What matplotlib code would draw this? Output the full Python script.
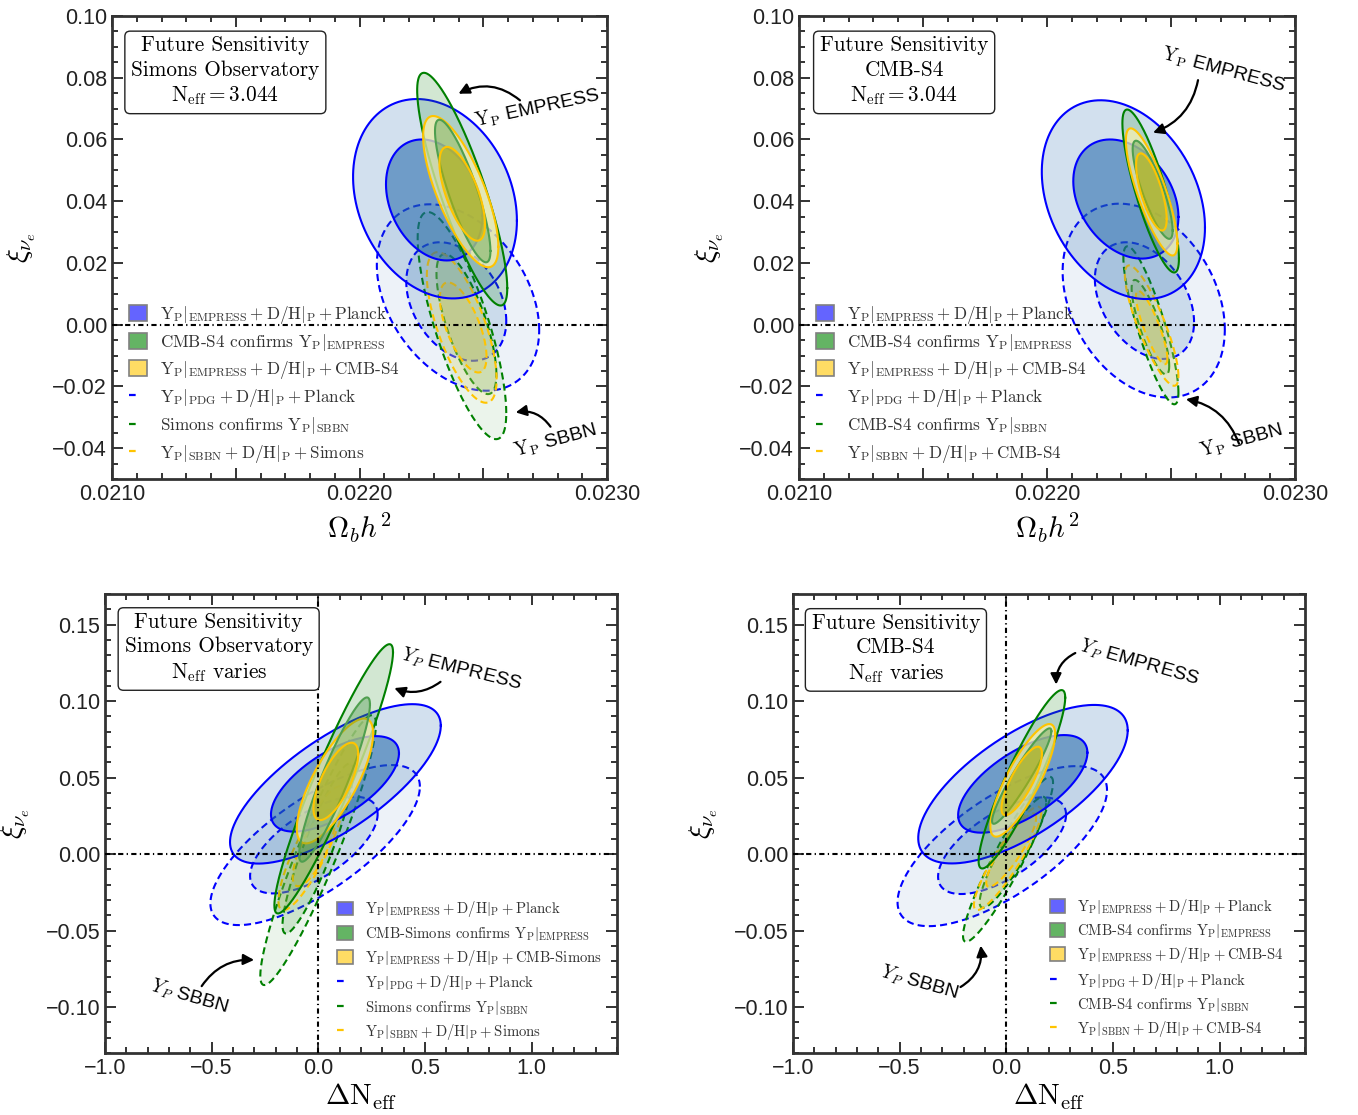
import numpy as np
import matplotlib
matplotlib.use("Agg")
import matplotlib.pyplot as plt
from matplotlib.patches import Patch
from matplotlib.lines import Line2D
from matplotlib.ticker import MultipleLocator, FuncFormatter

plt.rcParams['mathtext.fontset'] = 'cm'
plt.rcParams['axes.unicode_minus'] = True

# contour order (draw order)
contours = ['bdash2', 'bdash1', 'gdash2', 'gdash1', 'ydash2', 'ydash1',
            'bsol2', 'bsol1', 'gsol2', 'ysol2', 'gsol1', 'ysol1']

# ---- Top-left: Simons Observatory, Neff = 3.044 (x = Omega_b h^2, y = xi) ----
tl_cx = [0.022398, 0.022391, 0.022414, 0.022432, 0.022413, 0.022419,
         0.022305, 0.022302, 0.022415, 0.022409, 0.022417, 0.022415]
tl_cy = [0.0088, 0.0075, -0.0003, 0.0002, -0.0009, -0.0009,
         0.0408, 0.0404, 0.0439, 0.0431, 0.0433, 0.0424]
tl_sx = [0.000328, 0.000202, 0.000179, 0.000121, 0.000141, 0.0000943,
         0.000331, 0.000195, 0.000182, 0.000152, 0.000112, 0.0000921]
tl_sy = [0.0302, 0.0192, 0.0368, 0.0227, 0.0244, 0.0146,
         0.0323, 0.0196, 0.0377, 0.0245, 0.0231, 0.0152]
tl_rho = [-0.35, -0.33, -0.77, -0.72, -0.69, -0.65,
          -0.22, -0.26, -0.85, -0.73, -0.84, -0.66]

# ---- Top-right: CMB-S4, Neff = 3.044 ----
tr_cx = [0.022390, 0.022393, 0.022419, 0.022417, 0.022422, 0.022422,
         0.022308, 0.022318, 0.022418, 0.022422, 0.022426, 0.022421]
tr_cy = [0.0078, 0.0078, -0.0002, -0.0008, -0.0003, -0.0009,
         0.0405, 0.0407, 0.0433, 0.0430, 0.0437, 0.0430]
tr_sx = [0.000327, 0.000200, 0.000111, 0.0000758, 0.000108, 0.0000633,
         0.000329, 0.000212, 0.000114, 0.000104, 0.0000806, 0.0000617]
tr_sy = [0.0314, 0.0189, 0.0256, 0.0153, 0.0195, 0.0119,
         0.0322, 0.0193, 0.0264, 0.0206, 0.0159, 0.0125]
tr_rho = [-0.30, -0.37, -0.85, -0.82, -0.84, -0.85,
          -0.28, -0.30, -0.83, -0.81, -0.83, -0.70]

# ---- Bottom-left: Simons Observatory, Neff varies (x = Delta Neff) ----
bl_cx = [-0.015, -0.021, -0.001, -0.002, -0.031, -0.020,
         0.080, 0.078, 0.072, 0.078, 0.076, 0.082]
bl_cy = [0.0059, 0.0059, 0.0026, 0.0037, 0.0039, 0.0040,
         0.0459, 0.0459, 0.0492, 0.0478, 0.0487, 0.0475]
bl_sx = [0.491, 0.299, 0.271, 0.166, 0.156, 0.100,
         0.494, 0.300, 0.278, 0.179, 0.166, 0.105]
bl_sy = [0.0523, 0.0316, 0.0882, 0.0556, 0.0405, 0.0250,
         0.0521, 0.0312, 0.0880, 0.0408, 0.0537, 0.0253]
bl_rho = [0.73, 0.64, 0.93, 0.90, 0.85, 0.75,
          0.73, 0.64, 0.94, 0.76, 0.915, 0.70]

# ---- Bottom-right: CMB-S4, Neff varies ----
br_cx = [-0.019, -0.020, 0.008, 0.031, 0.006, 0.023,
         0.078, 0.077, 0.073, 0.077, 0.072, 0.072]
br_cy = [0.0052, 0.0055, -0.0034, 0.0012, -0.0028, 0.0026,
         0.0457, 0.0459, 0.0489, 0.0482, 0.0510, 0.0478]
br_sx = [0.491, 0.300, 0.211, 0.156, 0.158, 0.117,
         0.491, 0.303, 0.203, 0.152, 0.139, 0.095]
br_sy = [0.0523, 0.0316, 0.0539, 0.0363, 0.0338, 0.0240,
         0.0518, 0.0319, 0.0583, 0.0368, 0.0312, 0.0224]
br_rho = [0.70, 0.64, 0.93, 0.90, 0.90, 0.88,
          0.68, 0.64, 0.915, 0.82, 0.94, 0.80]

# styles: (face, alpha, edge, linestyle)
DASH = (0, (3.4, 2.0))
styles = {
    'bdash2': ('#1e64aa', 0.08, '#0000ff', DASH),
    'bdash1': ('#1e64aa', 0.16, '#0000ff', DASH),
    'gdash2': ('#3c9a3c', 0.10, '#008000', DASH),
    'gdash1': ('#3c9a3c', 0.18, '#008000', DASH),
    'ydash2': ('#ffe680', 0.25, '#ffc400', DASH),
    'ydash1': ('#d8c040', 0.25, '#ffc400', DASH),
    'bsol2': ('#1e64aa', 0.20, '#0000ff', '-'),
    'bsol1': ('#1e64aa', 0.55, '#0000ff', '-'),
    'gsol2': ('#228b22', 0.20, '#008000', '-'),
    'ysol2': ('#fbf3b0', 0.70, '#ffc400', '-'),
    'gsol1': ('#3a8f3a', 0.35, '#4f9f4f', '-'),
    'ysol1': ('#c8b400', 0.50, '#ffc400', '-'),
}


def draw_contours(ax, cx, cy, sx, sy, rho):
    t = np.linspace(0, 2 * np.pi, 400)
    for i, name in enumerate(contours):
        fc, a, ec, ls = styles[name]
        x = cx[i] + sx[i] * np.cos(t)
        y = cy[i] + sy[i] * (rho[i] * np.cos(t) + np.sqrt(1 - rho[i] ** 2) * np.sin(t))
        ax.fill(x, y, color=fc, alpha=a, lw=0, zorder=2 + i * 0.1)
        ax.plot(x, y, color=ec, ls=ls, lw=1.5, zorder=2.05 + i * 0.1)


def minus(s):
    return s.replace('-', '\u2212')


fig = plt.figure(figsize=(13.58, 11.15), dpi=100)
W, H = 1358, 1115


def add_axes(x0, y0, x1, y1):
    return fig.add_axes([x0 / W, 1 - y1 / H, (x1 - x0) / W, (y1 - y0) / H])


ax_tl = add_axes(112, 16, 607, 479)
ax_tr = add_axes(799, 16, 1295, 479)
ax_bl = add_axes(105, 594, 617, 1053)
ax_br = add_axes(793, 594, 1305, 1053)

DD = (0, (2.5, 1.6, 0.6, 1.6))


def style_axes(ax):
    for sp in ax.spines.values():
        sp.set_linewidth(2.0)
        sp.set_color('#333333')
    ax.tick_params(which='both', direction='in', top=True, right=True,
                   color='#333333', width=1.4)
    ax.tick_params(which='major', length=8)
    ax.tick_params(which='minor', length=4.5)
    for lab in ax.get_xticklabels() + ax.get_yticklabels():
        lab.set_fontfamily('Liberation Sans')
        lab.set_fontsize(15.5)
        lab.set_color('#222222')


# top panels
for ax in (ax_tl, ax_tr):
    ax.set_xlim(0.0210, 0.0230)
    ax.set_ylim(-0.05, 0.10)
    ax.xaxis.set_major_locator(MultipleLocator(0.0005))
    ax.xaxis.set_minor_locator(MultipleLocator(0.0001))
    ax.xaxis.set_major_formatter(FuncFormatter(
        lambda v, p: ('%.4f' % v) if abs(v * 1000 - round(v * 1000)) < 1e-6 else ''))
    ax.yaxis.set_major_locator(MultipleLocator(0.02))
    ax.yaxis.set_minor_locator(MultipleLocator(0.005))
    ax.yaxis.set_major_formatter(FuncFormatter(lambda v, p: minus('%.2f' % (0 if abs(v) < 1e-12 else v))))
    ax.axhline(0, color='black', lw=1.5, ls=DD, zorder=5)
    ax.set_xlabel(r'$\Omega_b h^2$', fontsize=21, labelpad=4)
    ax.set_ylabel(r'$\xi_{\nu_e}$', fontsize=21, labelpad=10)
    style_axes(ax)

for ax in (ax_bl, ax_br):
    ax.set_xlim(-1.0, 1.4)
    ax.set_ylim(-0.13, 0.17)
    ax.xaxis.set_major_locator(MultipleLocator(0.5))
    ax.xaxis.set_minor_locator(MultipleLocator(0.1))
    ax.xaxis.set_major_formatter(FuncFormatter(lambda v, p: minus('%.1f' % (0 if abs(v) < 1e-12 else v))))
    ax.yaxis.set_major_locator(MultipleLocator(0.05))
    ax.yaxis.set_minor_locator(MultipleLocator(0.01))
    ax.yaxis.set_major_formatter(FuncFormatter(lambda v, p: minus('%.2f' % (0 if abs(v) < 1e-12 else v))))
    ax.axhline(0, color='black', lw=1.5, ls=DD, zorder=5)
    ax.axvline(0, color='black', lw=1.5, ls=DD, zorder=5)
    ax.set_xlabel(r'$\Delta\mathrm{N_{eff}}$', fontsize=21, labelpad=2)
    ax.set_ylabel(r'$\xi_{\nu_e}$', fontsize=21, labelpad=10)
    style_axes(ax)

draw_contours(ax_tl, tl_cx, tl_cy, tl_sx, tl_sy, tl_rho)
draw_contours(ax_tr, tr_cx, tr_cy, tr_sx, tr_sy, tr_rho)
draw_contours(ax_bl, bl_cx, bl_cy, bl_sx, bl_sy, bl_rho)
draw_contours(ax_br, br_cx, br_cy, br_sx, br_sy, br_rho)

# info boxes
box_kw = dict(boxstyle='round,pad=0.3,rounding_size=0.25', fc='white', ec='#222222', lw=1.0)
box_texts = {
    ax_tl: ('Future Sensitivity\nSimons Observatory\n$\\mathrm{N_{eff}=3.044}$', 0.229, 0.880),
    ax_tr: ('Future Sensitivity\nCMB-S4\n$\\mathrm{N_{eff}=3.044}$', 0.212, 0.880),
    ax_bl: ('Future Sensitivity\nSimons Observatory\n$\\mathrm{N_{eff}}$ varies', 0.222, 0.882),
    ax_br: ('Future Sensitivity\nCMB-S4\n$\\mathrm{N_{eff}}$ varies', 0.201, 0.880),
}
for ax, (txt, x, y) in box_texts.items():
    ax.text(x, y, txt, transform=ax.transAxes, ha='center', va='center',
            family='cmr10', fontsize=15.3, multialignment='center',
            linespacing=1.3, bbox=box_kw, zorder=10)

# legends
patch_cols = ['#6464ff', '#64b464', '#ffdc64']
line_cols = ['#0000ff', '#008000', '#ffc400']


def make_handles():
    h = [Patch(facecolor=c, edgecolor='#808080', lw=1.2) for c in patch_cols]
    h += [Line2D([], [], color=c, lw=1.6, ls=(0, (3, 6))) for c in line_cols]
    return h


E = r'$\mathrm{Y_P|_{EMPRESS}+D/H|_P+Planck}$'
P = r'$\mathrm{Y_P|_{PDG}+D/H|_P+Planck}$'
labels_tl = [E, 'CMB-S4 confirms $\\mathrm{Y_P|_{EMPRESS}}$',
             r'$\mathrm{Y_P|_{EMPRESS}+D/H|_P+CMB}$-$\mathrm{S4}$', P,
             'Simons confirms $\\mathrm{Y_P|_{SBBN}}$',
             r'$\mathrm{Y_P|_{SBBN}+D/H|_P+Simons}$']
labels_tr = [E, 'CMB-S4 confirms $\\mathrm{Y_P|_{EMPRESS}}$',
             r'$\mathrm{Y_P|_{EMPRESS}+D/H|_P+CMB}$-$\mathrm{S4}$', P,
             'CMB-S4 confirms $\\mathrm{Y_P|_{SBBN}}$',
             r'$\mathrm{Y_P|_{SBBN}+D/H|_P+CMB}$-$\mathrm{S4}$']
labels_bl = [E, 'CMB-Simons confirms $\\mathrm{Y_P|_{EMPRESS}}$',
             r'$\mathrm{Y_P|_{EMPRESS}+D/H|_P+CMB}$-$\mathrm{Simons}$', P,
             'Simons confirms $\\mathrm{Y_P|_{SBBN}}$',
             r'$\mathrm{Y_P|_{SBBN}+D/H|_P+Simons}$']
labels_br = [E, 'CMB-S4 confirms $\\mathrm{Y_P|_{EMPRESS}}$',
             r'$\mathrm{Y_P|_{EMPRESS}+D/H|_P+CMB}$-$\mathrm{S4}$', P,
             'CMB-S4 confirms $\\mathrm{Y_P|_{SBBN}}$',
             r'$\mathrm{Y_P|_{SBBN}+D/H|_P+CMB}$-$\mathrm{S4}$']

for ax, labs, anchor, fs, sp in [(ax_tl, labels_tl, (0.034, 0.031), 12.3, 0.36),
                                  (ax_tr, labels_tr, (0.034, 0.031), 12.3, 0.36),
                                  (ax_bl, labels_bl, (0.454, 0.024), 10.6, 0.36),
                                  (ax_br, labels_br, (0.502, 0.030), 10.6, 0.36)]:
    leg = ax.legend(make_handles(), labs, loc='lower left', bbox_to_anchor=anchor,
                    frameon=False, prop=dict(family='cmr10', size=fs),
                    handlelength=1.05, handleheight=1.05, handletextpad=0.8,
                    labelspacing=sp, borderpad=0, borderaxespad=0)
    leg.set_zorder(12)
    for t in leg.get_texts():
        t.set_color('#333333')

# annotations
ARR = dict(arrowstyle='-|>', color='black', lw=1.6, mutation_scale=16)
LBL = dict(family='Liberation Sans', fontsize=14, ha='center', va='center', zorder=11)
Yr = r'$\mathrm{Y_P}$ '
Yi = r'$Y_P$ '

ax_tl.annotate('', xy=(0.022390, 0.0744), xytext=(0.022657, 0.0721),
               arrowprops=dict(connectionstyle='arc3,rad=0.35', **ARR))
ax_tl.text(0.022717, 0.0702, Yr + 'EMPRESS', rotation=12, **LBL)
ax_tl.annotate('', xy=(0.022620, -0.0286), xytext=(0.022778, -0.0338),
               arrowprops=dict(connectionstyle='arc3,rad=0.35', **ARR))
ax_tl.text(0.022790, -0.0377, Yr + 'SBBN', rotation=15, **LBL)

ax_tr.annotate('', xy=(0.022417, 0.0619), xytext=(0.022611, 0.0801),
               arrowprops=dict(connectionstyle='arc3,rad=-0.3', **ARR))
ax_tr.text(0.022710, 0.0825, Yr + 'EMPRESS', rotation=-15, **LBL)
ax_tr.annotate('', xy=(0.022549, -0.0240), xytext=(0.022778, -0.0394),
               arrowprops=dict(connectionstyle='arc3,rad=0.3', **ARR))
ax_tr.text(0.022782, -0.0377, Yr + 'SBBN', rotation=15, **LBL)

ax_bl.annotate('', xy=(0.344, 0.1092), xytext=(0.583, 0.1137),
               arrowprops=dict(connectionstyle='arc3,rad=-0.3', **ARR))
ax_bl.text(0.672, 0.1203, Yi + 'EMPRESS', rotation=-14, **LBL)
ax_bl.annotate('', xy=(-0.288, -0.0693), xytext=(-0.554, -0.0878),
               arrowprops=dict(connectionstyle='arc3,rad=-0.3', **ARR))
ax_bl.text(-0.605, -0.0935, Yi + 'SBBN', rotation=-16, **LBL)

ax_br.annotate('', xy=(0.234, 0.1090), xytext=(0.335, 0.1322),
               arrowprops=dict(connectionstyle='arc3,rad=0.35', **ARR))
ax_br.text(0.624, 0.1248, Yi + 'EMPRESS', rotation=-16, **LBL)
ax_br.annotate('', xy=(-0.122, -0.058), xytext=(-0.226, -0.0878),
               arrowprops=dict(connectionstyle='arc3,rad=0.35', **ARR))
ax_br.text(-0.406, -0.0843, Yi + 'SBBN', rotation=-16, **LBL)

fig.savefig('out.png', dpi=100)
